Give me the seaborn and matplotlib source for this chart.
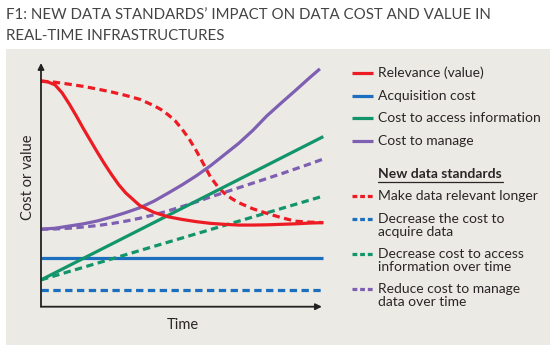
import matplotlib
matplotlib.use("Agg")
import matplotlib.pyplot as plt
from matplotlib.lines import Line2D
from matplotlib.patches import Rectangle
import pandas as pd
import seaborn as sns

# ---- data (conceptual curves, time 0..10, cost/value 0..100) ----
TIME_RELEVANCE = [0, 0.25, 0.5, 0.75, 1, 1.25, 1.5, 1.75, 2, 2.25, 2.5, 2.75, 3,
                  3.5, 4, 4.5, 5, 5.5, 6, 6.5, 7, 7.5, 8, 8.5, 9, 9.5, 10]
relevance = [92.6, 92.2, 91.0, 87.7, 83.2, 78.3, 73.1, 68.2, 63.3, 58.6, 54.2, 50.1, 46.7,
             41.5, 38.7, 36.9, 35.8, 34.9, 34.2, 33.8, 33.5, 33.5, 33.6, 33.8, 34.0, 34.3, 34.5]

TIME_RELEVANCE_NEW = [0, 0.5, 1, 1.5, 2, 2.5, 3, 3.5, 4, 4.25, 4.5, 4.75, 5, 5.25, 5.5,
                      5.75, 6, 6.25, 6.5, 6.75, 7, 7.5, 8, 8.5, 9, 9.5, 10]
relevance_new = [92.6, 92.1, 91.3, 90.4, 89.3, 88.1, 86.7, 85.1, 82.5, 80.9, 78.8, 76.3,
                 72.8, 68.8, 64.0, 58.7, 53.3, 49.4, 46.5, 44.4, 42.7, 40.2, 38.3, 36.6,
                 35.1, 34.7, 34.5]

TIME_MANAGE = [0, 0.5, 1, 1.5, 2, 2.5, 3, 3.5, 4, 4.5, 5, 5.5, 6, 6.5, 7, 7.5, 8, 8.5,
               9, 9.5, 9.88]
manage = [31.8, 32.2, 33.1, 34.0, 35.2, 36.8, 38.6, 40.6, 43.3, 46.6, 50.0,
          53.7, 57.8, 62.4, 67.0, 72.3, 78.3, 83.5, 88.6, 93.8, 97.6]

TIME_MANAGE_NEW = [0, 0.5, 1, 1.5, 2, 2.5, 3, 3.5, 4, 4.5, 5, 5.5, 6, 6.5, 7, 7.5, 8,
                   8.5, 9, 9.5, 10]
manage_new = [31.8, 31.9, 32.2, 32.7, 33.3, 34.1, 35.1, 36.3, 37.7, 39.3, 41.1,
              43.0, 45.0, 46.9, 48.8, 50.7, 52.6, 54.5, 56.5, 58.5, 60.6]

TIME_ENDS = [0, 10]
acquisition = [19.9, 19.9]
acquisition_new = [6.9, 6.9]
access = [11.0, 69.8]
access_new = [11.0, 45.4]

SERIES = [
    ("Acquisition cost", TIME_ENDS, acquisition, "blue", "base"),
    ("Decrease the cost to acquire data", TIME_ENDS, acquisition_new, "blue", "new"),
    ("Decrease cost to access information over time", TIME_ENDS, access_new, "green", "new"),
    ("Reduce cost to manage data over time", TIME_MANAGE_NEW, manage_new, "purple", "new"),
    ("Make data relevant longer", TIME_RELEVANCE_NEW, relevance_new, "red", "new"),
    ("Cost to access information", TIME_ENDS, access, "green", "base"),
    ("Cost to manage", TIME_MANAGE, manage, "purple", "base"),
    ("Relevance (value)", TIME_RELEVANCE, relevance, "red", "base"),
]

COLORS = {"red": "#ED1C24", "blue": "#1C6FBE", "green": "#12956B", "purple": "#7E5FB2"}
TEXT = "#2a2627"
PANEL = "#EBEAE4"

rows = []
for name, xs, ys, col, kind in SERIES:
    for x, y in zip(xs, ys):
        rows.append({"series": name, "time": x, "value": y})
df = pd.DataFrame(rows)

sns.set_theme(style="white")
plt.rcParams["font.family"] = ["Lato", "DejaVu Sans"]

fig = plt.figure(figsize=(5.5, 3.45), dpi=100)
W, H = 550, 345

# light panel behind chart and legend
fig.patches.append(Rectangle((6 / W, 0), 1 - 6 / W, 1 - 48.5 / H,
                             transform=fig.transFigure, facecolor=PANEL,
                             edgecolor="none", zorder=-5))

ax = fig.add_axes([41 / W, 1 - 306.7 / H, (323.3 - 41) / W, (306.7 - 63) / H])
ax.set_facecolor("none")
ax.set_zorder(2)

order = [s[0] for s in SERIES]
palette = {name: COLORS[col] for name, _, _, col, _ in SERIES}
dashes = {name: ("" if kind == "base" else (2.3, 1.4)) for name, _, _, _, kind in SERIES}
sns.lineplot(data=df, x="time", y="value", hue="series", style="series",
             palette=palette, dashes=dashes, hue_order=order, style_order=order,
             estimator=None, sort=False, linewidth=2.3, legend=False, ax=ax)
for ln in ax.get_lines():
    ln.set_clip_on(False)
    ln.set_solid_capstyle("butt")
    ln.set_dash_capstyle("butt")
    ln.set_solid_joinstyle("round")

ax.set_xlim(0, 10)
ax.set_ylim(0, 100)
ax.set_xticks([])
ax.set_yticks([])
for sp in ax.spines.values():
    sp.set_visible(False)
ax.set_xlabel("")
ax.set_ylabel("")

arrow = dict(arrowstyle="-|>", mutation_scale=9, lw=1.3, color="#222222",
             shrinkA=0, shrinkB=0)
ax.annotate("", xy=(0, 1), xytext=(0, 0), xycoords="axes fraction", arrowprops=arrow)
ax.annotate("", xy=(0.995, 0), xytext=(0, 0), xycoords="axes fraction", arrowprops=arrow)

fig.text(182.5 / W, 1 - 329 / H, "Time", ha="center", va="baseline",
         fontsize=10.5, color=TEXT)
fig.text(28 / W, 1 - 177 / H, "Cost or value", ha="center", va="center",
         rotation=90, fontsize=10.5, color=TEXT)

# title
for y_px, line in [(19, "F1: NEW DATA STANDARDS’ IMPACT ON DATA COST AND VALUE IN"),
                   (40, "REAL-TIME INFRASTRUCTURES")]:
    fig.text(6 / W, 1 - y_px / H, line, ha="left", va="baseline",
             fontsize=10.8, fontweight="normal", color="#444444")

# legend
def legend_sample(y_px, colour, dashed):
    yf = 1 - y_px / H
    fig.add_artist(Line2D([352 / W, 373 / W], [yf, yf], transform=fig.transFigure,
                          color=COLORS[colour], lw=2.3,
                          linestyle=(0, (1.5, 0.9)) if dashed else "-",
                          solid_capstyle="butt", dash_capstyle="butt"))

def legend_text(y_px, label, **kw):
    fig.text(378 / W, 1 - y_px / H, label, ha="left", va="center", fontsize=10,
             color=TEXT, **kw)

for y_px, label, colour in [(73, "Relevance (value)", "red"),
                            (96, "Acquisition cost", "blue"),
                            (118, "Cost to access information", "green"),
                            (141, "Cost to manage", "purple")]:
    legend_sample(y_px, colour, False)
    legend_text(y_px, label)

legend_text(174, "New data standards", fontweight="bold")
fig.add_artist(Line2D([378 / W, 502.5 / W], [1 - 181.5 / H, 1 - 181.5 / H],
                      transform=fig.transFigure, color=TEXT, lw=0.9))

for y_px, lines, colour in [(196, ["Make data relevant longer"], "red"),
                            (219, ["Decrease the cost to", "acquire data"], "blue"),
                            (254, ["Decrease cost to access", "information over time"], "green"),
                            (289, ["Reduce cost to manage", "data over time"], "purple")]:
    legend_sample(y_px, colour, True)
    for i, line in enumerate(lines):
        legend_text(y_px + 13 * i, line)

fig.savefig("out.png", dpi=100, facecolor="white")
